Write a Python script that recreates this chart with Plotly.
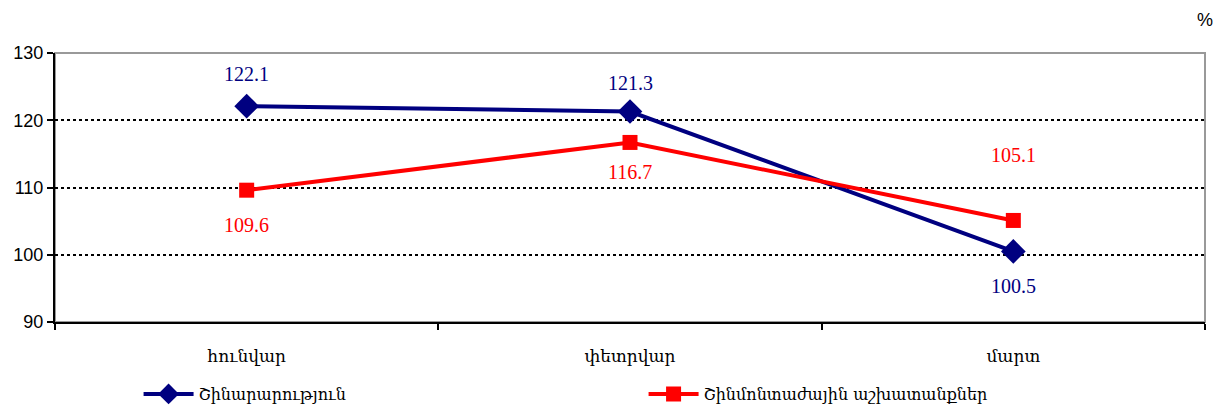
import plotly.graph_objects as go

months = ["հունվար", "փետրվար", "մարտ"]
construction = [122.1, 121.3, 100.5]
works = [109.6, 116.7, 105.1]
name_construction = "Շինարարություն"
name_works = "Շինմոնտաժային աշխատանքներ"
y_ticks = [90, 100, 110, 120, 130]

# label offsets in pixels (style only)
construction_label_shift = [32, 29, -35]
works_label_shift = [-35, -30, 65]

serif = "Sylfaen, 'DejaVu Serif', 'Liberation Serif', serif"
label_font = "'Liberation Serif', 'Times New Roman', serif"
sans = "Arial, 'Liberation Sans', sans-serif"

fig = go.Figure()
fig.add_trace(go.Scatter(
    x=months, y=construction, name=name_construction, mode="lines+markers",
    line=dict(color="#000080", width=4),
    marker=dict(symbol="diamond", size=19, color="#000080"),
))
fig.add_trace(go.Scatter(
    x=months, y=works, name=name_works, mode="lines+markers",
    line=dict(color="#FF0000", width=4),
    marker=dict(symbol="square", size=15, color="#FF0000"),
))

annotations = []
for m, v, s in zip(months, construction, construction_label_shift):
    annotations.append(dict(x=m, y=v, yshift=s, text=f"{v:.1f}", showarrow=False,
                            font=dict(family=label_font, size=20, color="#000080")))
for m, v, s in zip(months, works, works_label_shift):
    annotations.append(dict(x=m, y=v, yshift=s, text=f"{v:.1f}", showarrow=False,
                            bgcolor="white",
                            font=dict(family=label_font, size=20, color="#FF0000")))
annotations.append(dict(text="%", xref="paper", yref="paper", x=1.0, y=1.0, yshift=33,
                        xanchor="center", yanchor="middle", showarrow=False,
                        font=dict(family=sans, size=18, color="black")))

# page body has an 8px margin, so the figure is sized to fit inside it
fig.update_layout(
    width=1209, height=398,
    margin=dict(l=47, r=12, t=45, b=84, autoexpand=False),
    paper_bgcolor="white", plot_bgcolor="white",
    showlegend=True,
    legend=dict(orientation="h", xref="container", yref="container",
                x=0.108, xanchor="left", y=0.030, yanchor="middle",
                entrywidth=440, entrywidthmode="pixels", itemwidth=50,
                font=dict(family=serif, size=16, color="black")),
    shapes=[dict(type="rect", xref="paper", yref="paper", x0=0, x1=1, y0=0, y1=1,
                 line=dict(color="#999999", width=2), layer="below")],
    annotations=annotations,
)
fig.update_xaxes(
    type="category", range=[-0.5, 2.5], showgrid=False, automargin=False,
    showline=True, linecolor="black", linewidth=2,
    ticks="outside", tickson="boundaries", ticklen=6, tickcolor="black", tickwidth=1.5,
    ticklabelstandoff=18,
    tickfont=dict(family=serif, size=17, color="black"),
)
fig.update_yaxes(
    range=[90, 130], tickvals=y_ticks, showgrid=True, automargin=False,
    gridcolor="black", gridwidth=1.5, griddash="3px,3px",
    showline=True, linecolor="black", linewidth=2,
    ticks="outside", ticklen=6, tickcolor="black", tickwidth=1.5,
    tickfont=dict(family=sans, size=18, color="black"),
    zeroline=False,
)
fig.write_html("out.html")
